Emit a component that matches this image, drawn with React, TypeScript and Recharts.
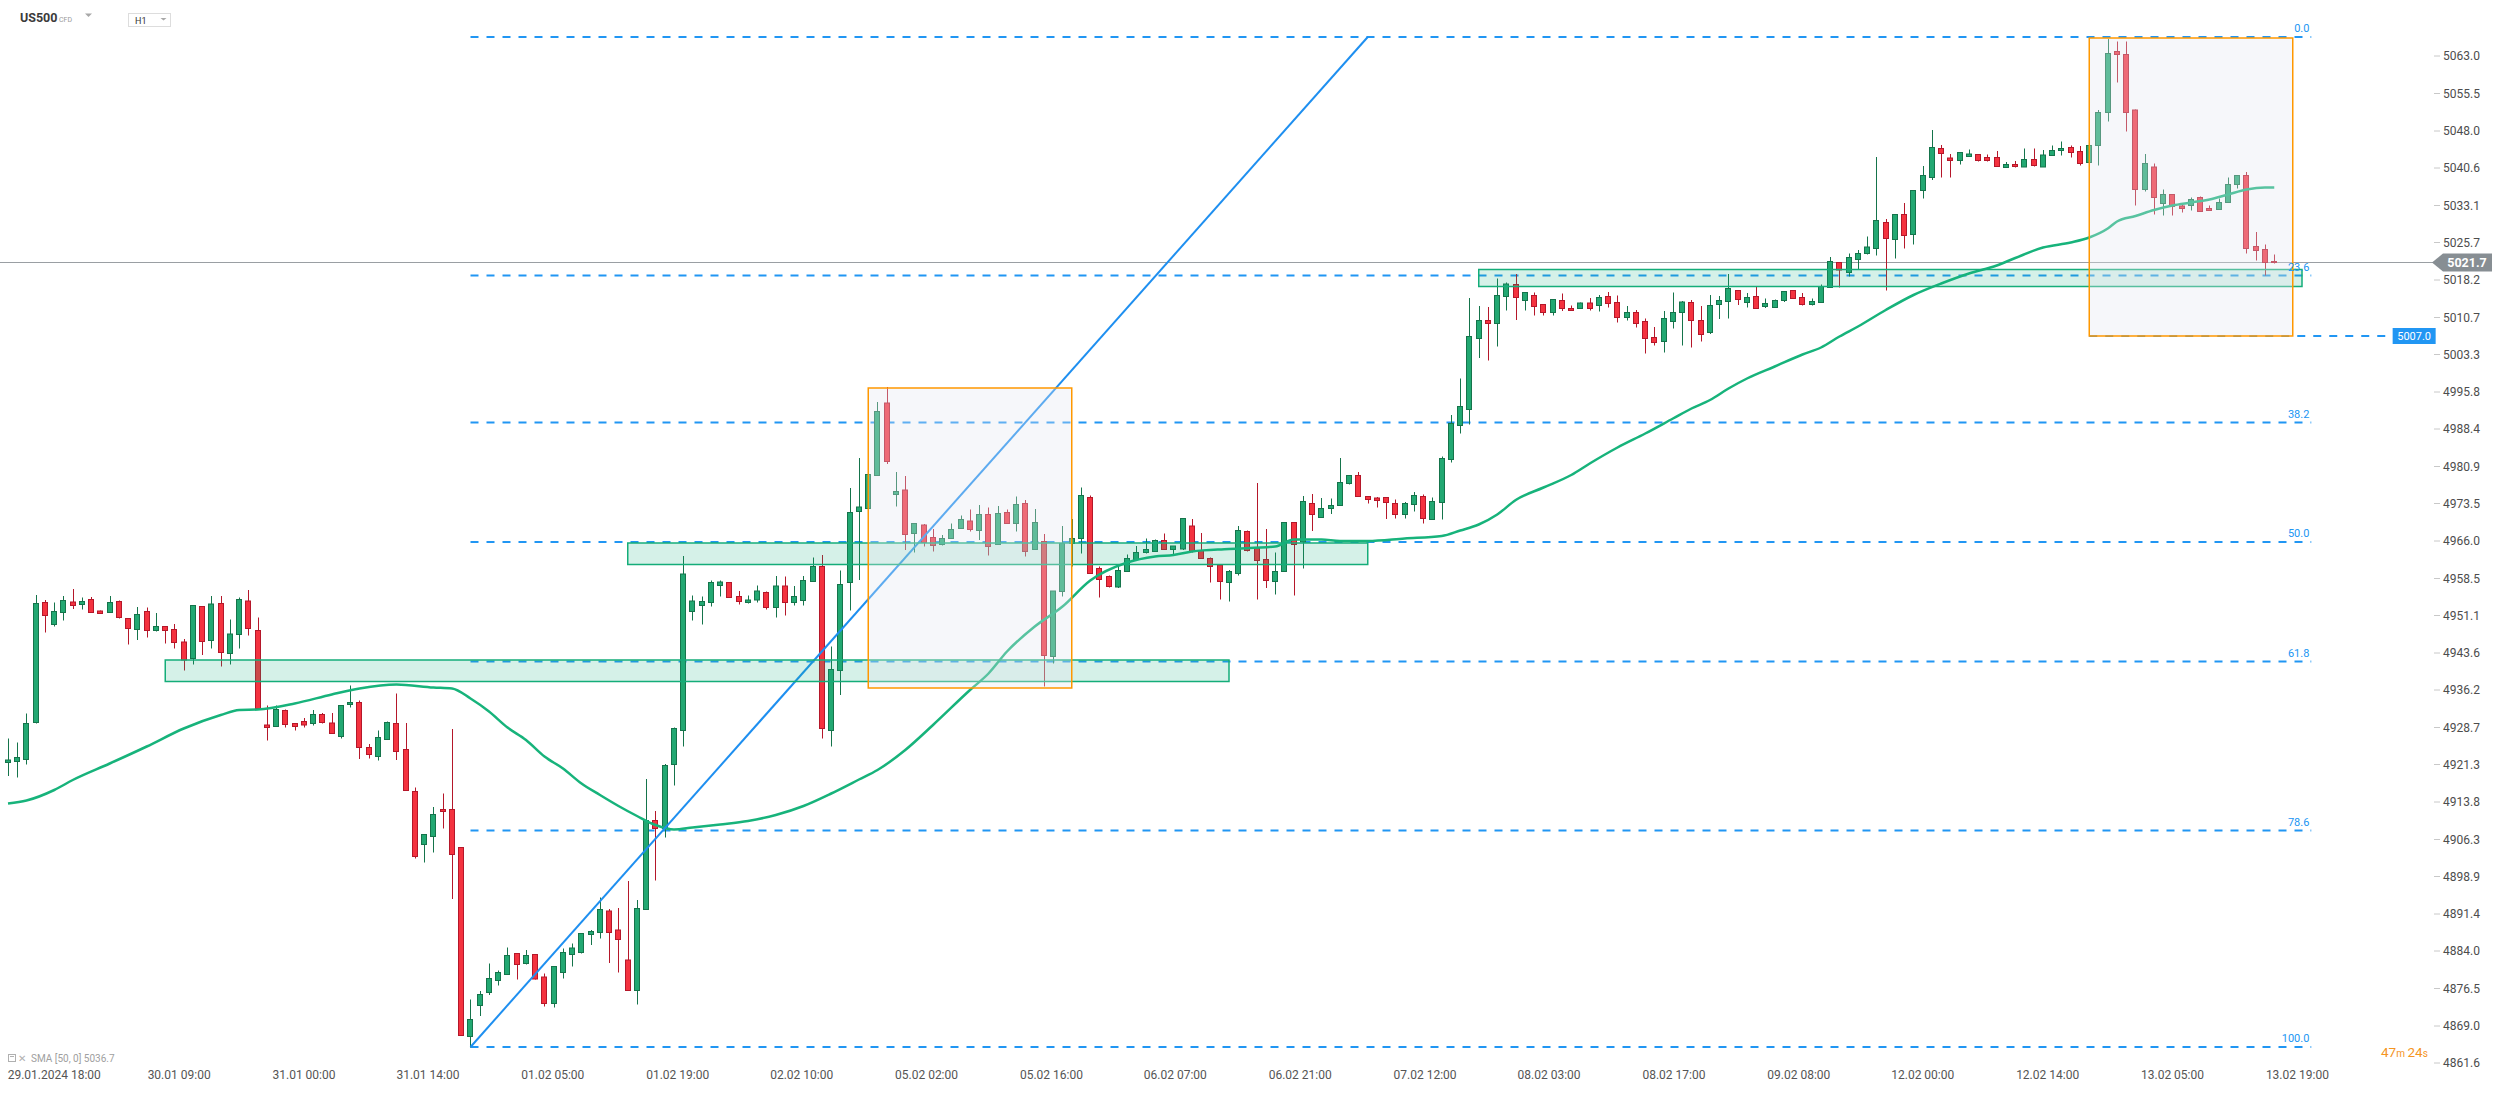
import React from 'react';
import {
  ComposedChart,
  Bar,
  Line,
  XAxis,
  YAxis,
  ReferenceLine,
  ReferenceArea,
  ReferenceDot,
} from 'recharts';

// ---------- DATA ----------
const OPEN = [
  4921.7, 4921.9, 4922.3, 4929.7, 4953.7, 4949.3, 4951.7, 4953.8, 4953.3, 4954.3,
  4952.0, 4951.7, 4953.9, 4950.5, 4948.3, 4951.9, 4948.1, 4948.9, 4948.3, 4945.8,
  4942.5, 4952.9, 4946.1, 4953.5, 4943.5, 4947.3, 4954.0, 4948.1, 4929.2, 4928.9,
  4932.1, 4929.5, 4929.9, 4929.5, 4931.3, 4929.6, 4926.9, 4933.3, 4933.7, 4924.7,
  4922.9, 4926.3, 4929.5, 4924.3, 4915.9, 4905.3, 4906.9, 4912.3, 4912.3, 4904.7,
  4866.9, 4873.1, 4875.7, 4878.1, 4879.3, 4883.5, 4881.5, 4883.3, 4878.8, 4873.5,
  4879.7, 4883.3, 4883.7, 4887.3, 4887.7, 4892.0, 4888.2, 4882.2, 4876.1, 4892.3,
  4910.1, 4908.5, 4921.3, 4928.1, 4951.9, 4953.1, 4953.7, 4957.1, 4957.7, 4954.9,
  4953.7, 4954.2, 4955.7, 4952.7, 4957.0, 4953.7, 4954.1, 4957.9, 4960.9, 4928.1,
  4940.1, 4957.7, 4971.9, 4972.5, 4979.1, 4993.6, 4975.3, 4976.2, 4967.5, 4969.2,
  4966.7, 4965.3, 4966.5, 4968.5, 4970.0, 4968.1, 4971.3, 4965.3, 4971.7, 4969.5,
  4973.5, 4964.3, 4965.9, 4942.9, 4955.9, 4965.5, 4966.5, 4974.7, 4960.5, 4958.9,
  4956.8, 4959.9, 4962.3, 4963.7, 4963.9, 4966.1, 4964.3, 4964.4, 4969.0, 4964.1,
  4962.5, 4961.2, 4957.7, 4959.5, 4967.9, 4964.6, 4962.3, 4957.9, 4959.9, 4969.7,
  4965.8, 4973.5, 4970.7, 4972.5, 4973.1, 4977.5, 4979.1, 4974.9, 4974.6, 4974.7,
  4973.5, 4971.3, 4973.3, 4974.9, 4970.3, 4973.7, 4982.3, 4989.1, 4992.3, 5006.5,
  5010.1, 5009.5, 5014.9, 5017.3, 5014.1, 5015.1, 5013.3, 5011.7, 5014.1, 5012.5,
  5012.5, 5013.6, 5013.1, 5014.9, 5013.7, 5010.7, 5011.7, 5009.9, 5006.7, 5005.9,
  5009.9, 5011.7, 5013.7, 5010.1, 5007.7, 5013.3, 5013.9, 5016.1, 5013.7, 5014.9,
  5012.9, 5012.7, 5014.1, 5016.1, 5014.7, 5013.3, 5013.7, 5016.7, 5021.7, 5019.7,
  5022.3, 5023.5, 5024.5, 5029.7, 5026.3, 5031.3, 5027.3, 5036.1, 5038.7, 5044.5,
  5042.6, 5042.1, 5042.9, 5043.3, 5042.7, 5042.7, 5040.7, 5041.3, 5040.8, 5042.3,
  5040.8, 5043.1, 5044.1, 5044.7, 5043.9, 5041.7, 5045.1, 5051.7, 5063.9, 5063.3,
  5052.2, 5036.3, 5040.8, 5033.5, 5035.3, 5033.0, 5033.1, 5034.7, 5032.5, 5032.3,
  5033.7, 5037.3, 5039.1, 5024.9, 5024.3, 5021.9,
];
const HIGH = [
  4926.5, 4925.7, 4931.5, 4955.2, 4954.2, 4953.7, 4955.0, 4956.4, 4954.7, 4954.8,
  4952.1, 4955.0, 4954.1, 4950.5, 4952.8, 4952.7, 4951.6, 4949.0, 4949.4, 4946.4,
  4953.2, 4953.0, 4955.0, 4955.0, 4950.3, 4954.7, 4956.2, 4950.7, 4933.1, 4933.1,
  4932.3, 4929.5, 4930.6, 4932.2, 4931.6, 4931.6, 4933.1, 4937.1, 4934.1, 4925.4,
  4928.1, 4929.9, 4935.5, 4929.6, 4916.7, 4907.4, 4912.8, 4915.5, 4928.4, 4904.7,
  4874.3, 4876.0, 4881.5, 4880.1, 4884.7, 4883.6, 4884.2, 4883.3, 4879.5, 4880.9,
  4884.5, 4885.5, 4887.5, 4888.2, 4894.7, 4892.4, 4892.6, 4898.0, 4894.2, 4918.4,
  4912.0, 4921.4, 4928.7, 4963.0, 4955.1, 4954.9, 4958.1, 4958.1, 4957.8, 4956.0,
  4955.1, 4957.1, 4955.9, 4959.0, 4958.9, 4957.0, 4959.0, 4962.7, 4963.2, 4944.9,
  4960.1, 4976.6, 4982.6, 4979.3, 4993.8, 4996.8, 4979.8, 4979.0, 4969.5, 4969.4,
  4968.4, 4967.2, 4969.5, 4971.1, 4972.3, 4973.2, 4972.7, 4973.0, 4972.3, 4974.9,
  4974.2, 4972.4, 4967.4, 4956.0, 4969.0, 4970.4, 4976.7, 4975.1, 4960.9, 4959.1,
  4961.0, 4963.3, 4965.0, 4966.5, 4966.3, 4967.5, 4965.0, 4970.5, 4970.4, 4967.6,
  4962.7, 4961.3, 4960.2, 4969.0, 4968.1, 4977.6, 4968.4, 4963.7, 4969.7, 4969.7,
  4975.0, 4975.4, 4974.6, 4974.5, 4982.6, 4979.1, 4979.8, 4974.9, 4974.8, 4974.7,
  4974.3, 4973.8, 4975.8, 4975.3, 4974.7, 4982.9, 4991.2, 4998.5, 5014.6, 5013.0,
  5012.8, 5018.5, 5017.7, 5019.4, 5015.7, 5015.7, 5013.3, 5014.4, 5015.5, 5013.1,
  5013.7, 5014.6, 5015.2, 5015.8, 5015.1, 5013.0, 5012.2, 5010.5, 5008.8, 5012.0,
  5015.7, 5014.0, 5014.2, 5013.0, 5015.2, 5015.0, 5019.4, 5016.1, 5015.6, 5016.9,
  5014.5, 5014.3, 5015.9, 5016.1, 5015.6, 5014.5, 5017.3, 5022.8, 5021.7, 5023.5,
  5024.2, 5026.9, 5042.8, 5030.4, 5031.3, 5033.6, 5036.1, 5041.0, 5048.2, 5045.2,
  5043.4, 5043.7, 5044.3, 5043.3, 5043.3, 5044.0, 5041.8, 5042.0, 5044.5, 5044.5,
  5044.2, 5045.1, 5045.9, 5045.1, 5045.0, 5045.2, 5052.2, 5066.4, 5065.9, 5065.9,
  5052.3, 5043.4, 5041.5, 5036.3, 5035.3, 5033.2, 5034.7, 5034.9, 5033.1, 5034.5,
  5038.7, 5039.1, 5039.8, 5027.8, 5025.3, 5023.3,
];
const LOW = [
  4919.0, 4918.7, 4921.3, 4929.5, 4947.7, 4948.9, 4950.1, 4952.4, 4952.3, 4951.6,
  4951.5, 4951.7, 4950.5, 4945.3, 4946.2, 4946.7, 4947.9, 4945.5, 4944.5, 4940.1,
  4941.3, 4943.2, 4944.5, 4940.9, 4941.3, 4944.5, 4947.1, 4932.2, 4926.1, 4928.8,
  4928.7, 4928.1, 4928.7, 4929.1, 4929.5, 4927.5, 4926.5, 4932.7, 4922.4, 4922.5,
  4922.1, 4926.3, 4922.2, 4916.1, 4902.5, 4901.7, 4903.7, 4908.5, 4894.4, 4867.0,
  4864.7, 4871.0, 4875.2, 4877.1, 4879.3, 4878.3, 4881.3, 4878.3, 4872.9, 4872.7,
  4878.5, 4880.9, 4883.5, 4885.2, 4886.5, 4881.6, 4879.7, 4876.1, 4873.3, 4892.3,
  4898.1, 4906.7, 4917.1, 4924.9, 4950.1, 4949.3, 4952.9, 4954.9, 4954.6, 4953.3,
  4953.5, 4953.7, 4952.3, 4950.7, 4951.1, 4953.1, 4953.1, 4957.9, 4926.5, 4924.9,
  4935.2, 4952.1, 4958.2, 4972.5, 4979.1, 4981.4, 4972.9, 4964.2, 4963.7, 4964.9,
  4963.9, 4965.1, 4966.4, 4968.5, 4967.9, 4966.2, 4963.1, 4965.3, 4969.5, 4967.9,
  4962.9, 4964.2, 4936.9, 4941.5, 4954.9, 4960.9, 4963.5, 4959.5, 4954.7, 4956.7,
  4956.6, 4959.8, 4962.2, 4963.5, 4963.8, 4964.3, 4963.4, 4964.2, 4963.7, 4962.4,
  4957.7, 4954.3, 4953.9, 4959.1, 4963.9, 4954.3, 4956.6, 4955.3, 4959.8, 4955.1,
  4960.5, 4968.0, 4970.7, 4971.4, 4973.1, 4977.3, 4974.9, 4973.5, 4972.7, 4970.4,
  4970.5, 4970.5, 4971.9, 4969.5, 4970.3, 4970.3, 4981.7, 4987.5, 4989.3, 5002.6,
  5002.1, 5004.9, 5012.1, 5010.2, 5012.1, 5011.1, 5011.1, 5011.1, 5012.0, 5012.1,
  5012.5, 5012.1, 5011.9, 5012.7, 5009.7, 5010.1, 5008.7, 5003.5, 5005.1, 5003.7,
  5008.5, 5005.1, 5004.7, 5005.9, 5007.4, 5010.4, 5010.5, 5013.2, 5012.7, 5012.5,
  5012.6, 5012.7, 5013.8, 5014.5, 5013.1, 5013.1, 5013.7, 5016.7, 5016.7, 5018.9,
  5020.3, 5023.3, 5023.1, 5016.1, 5022.5, 5024.5, 5025.3, 5034.5, 5038.2, 5038.7,
  5038.7, 5041.3, 5042.9, 5041.9, 5041.9, 5040.9, 5040.7, 5040.7, 5040.8, 5040.9,
  5040.8, 5043.1, 5043.1, 5042.7, 5041.1, 5041.7, 5041.1, 5049.9, 5057.7, 5047.9,
  5033.1, 5035.9, 5031.3, 5031.1, 5031.1, 5031.7, 5032.1, 5031.9, 5032.1, 5032.3,
  5033.7, 5036.5, 5023.5, 5022.1, 5019.1, 5021.5,
];
const CLOSE = [
  4922.2, 4922.7, 4929.5, 4953.5, 4951.1, 4951.9, 4954.1, 4953.1, 4953.9, 4951.7,
  4951.5, 4953.7, 4950.7, 4948.5, 4951.3, 4948.1, 4948.9, 4948.1, 4945.7, 4942.2,
  4953.1, 4945.9, 4953.4, 4943.7, 4947.4, 4954.3, 4948.5, 4932.5, 4928.7, 4932.3,
  4929.3, 4928.9, 4929.2, 4931.3, 4929.7, 4927.5, 4933.1, 4933.7, 4924.7, 4923.3,
  4926.7, 4929.7, 4923.9, 4916.1, 4902.9, 4907.3, 4911.3, 4911.9, 4903.3, 4867.1,
  4870.3, 4875.3, 4878.5, 4879.7, 4883.1, 4881.3, 4883.1, 4878.4, 4873.5, 4880.9,
  4883.7, 4884.6, 4887.5, 4887.9, 4892.3, 4887.7, 4886.3, 4876.1, 4892.5, 4910.1,
  4908.5, 4921.1, 4928.5, 4959.4, 4954.0, 4953.9, 4957.7, 4957.8, 4954.7, 4953.9,
  4954.2, 4956.0, 4952.7, 4957.0, 4953.7, 4954.9, 4958.1, 4960.9, 4928.5, 4940.3,
  4957.3, 4971.7, 4972.8, 4979.3, 4991.9, 4981.9, 4975.9, 4967.3, 4969.5, 4965.7,
  4965.1, 4966.5, 4968.3, 4970.3, 4968.3, 4971.3, 4964.9, 4971.5, 4969.5, 4973.3,
  4963.9, 4969.7, 4943.1, 4956.0, 4965.5, 4966.5, 4975.1, 4959.5, 4958.3, 4956.9,
  4960.1, 4962.5, 4963.7, 4964.3, 4966.1, 4964.3, 4965.0, 4970.5, 4963.9, 4962.5,
  4960.9, 4957.9, 4959.9, 4968.1, 4964.1, 4962.1, 4958.1, 4959.9, 4969.7, 4965.3,
  4973.9, 4971.3, 4972.5, 4973.1, 4977.7, 4979.1, 4974.9, 4974.3, 4974.1, 4973.7,
  4971.3, 4973.5, 4975.1, 4970.5, 4973.9, 4982.5, 4989.5, 4992.9, 5006.9, 5010.1,
  5009.5, 5015.1, 5017.4, 5014.7, 5015.7, 5012.9, 5011.7, 5014.3, 5012.5, 5012.1,
  5013.6, 5012.5, 5014.7, 5013.5, 5010.7, 5011.7, 5009.5, 5006.5, 5005.7, 5010.5,
  5011.7, 5013.8, 5010.1, 5007.3, 5013.1, 5014.1, 5016.5, 5014.3, 5014.7, 5012.5,
  5013.5, 5014.1, 5015.9, 5014.5, 5013.3, 5013.9, 5016.9, 5021.9, 5020.2, 5022.7,
  5023.5, 5024.8, 5030.1, 5026.5, 5031.3, 5027.1, 5036.1, 5039.1, 5044.7, 5043.5,
  5042.1, 5043.7, 5043.4, 5042.1, 5042.1, 5040.9, 5041.3, 5040.9, 5042.3, 5041.1,
  5043.2, 5044.1, 5044.5, 5043.7, 5041.5, 5045.1, 5051.7, 5063.5, 5063.3, 5051.7,
  5036.3, 5041.5, 5034.7, 5035.3, 5032.9, 5032.5, 5034.3, 5031.9, 5032.1, 5033.7,
  5037.3, 5039.1, 5024.5, 5024.1, 5021.7, 5021.7,
];

// SMA(50) read at selected candles
const SMA_AT = [
  1, 3, 6, 8, 12, 16, 20, 24, 26, 28, 32, 36, 39, 43, 47, 49, 51, 53, 55, 57,
  59, 61, 63, 65, 67, 69, 71, 73, 75, 78, 81, 84, 87, 90, 93, 95, 98, 101, 105, 107,
  109, 112, 115, 118, 122, 125, 127, 129, 133, 138, 140, 143, 145, 148, 152, 156, 158, 160, 162, 164,
  167, 170, 172, 175, 178, 181, 183, 185, 187, 189, 192, 195, 197, 199, 201, 204, 207, 210, 213, 216,
  218, 221, 224, 226, 228, 229, 231, 233, 235, 237, 239, 241, 243, 245, 246,
];
const SMA_VAL = [
  4913.5, 4914.1, 4916.2, 4918.2, 4921.5, 4924.9, 4928.5, 4931.2, 4932.2, 4932.3,
  4933.5, 4935.3, 4936.5, 4937.3, 4936.7, 4936.5, 4934.5, 4931.9, 4928.7, 4926.2,
  4922.9, 4920.5, 4917.5, 4915.2, 4913.0, 4911.0, 4909.2, 4908.3, 4908.7, 4909.3,
  4910.0, 4911.2, 4913.0, 4915.5, 4918.3, 4920.2, 4924.2, 4929.2, 4936.2, 4939.5,
  4943.9, 4948.9, 4952.9, 4958.1, 4961.7, 4962.9, 4963.2, 4963.9, 4964.4, 4964.9,
  4966.3, 4966.3, 4966.0, 4966.0, 4966.5, 4967.0, 4968.1, 4969.3, 4971.3, 4974.2,
  4976.7, 4979.2, 4981.5, 4984.7, 4987.5, 4990.5, 4992.5, 4994.2, 4996.5, 4998.5,
  5000.9, 5003.3, 5004.7, 5006.9, 5008.9, 5012.2, 5015.2, 5017.5, 5019.5, 5021.1,
  5022.6, 5024.7, 5025.7, 5026.7, 5028.5, 5029.9, 5031.0, 5032.2, 5033.1, 5033.7,
  5034.3, 5035.3, 5036.3, 5036.7, 5036.7,
];

const X_TICK_POS = [
  6, 19.5, 33, 46.4, 59.9, 73.4, 86.8, 100.3, 113.8, 127.2, 140.7, 154.2, 167.6,
  181.1, 194.6, 208, 221.5, 235, 248.5,
];
const X_TICK_LABELS = [
  '29.01.2024 18:00', '30.01 09:00', '31.01 00:00', '31.01 14:00', '01.02 05:00',
  '01.02 19:00', '02.02 10:00', '05.02 02:00', '05.02 16:00', '06.02 07:00',
  '06.02 21:00', '07.02 12:00', '08.02 03:00', '08.02 17:00', '09.02 08:00',
  '12.02 00:00', '12.02 14:00', '13.02 05:00', '13.02 19:00',
];
const Y_TICKS = [
  5063.0, 5055.5, 5048.0, 5040.6, 5033.1, 5025.7, 5018.2, 5010.7, 5003.3, 4995.8,
  4988.4, 4980.9, 4973.5, 4966.0, 4958.5, 4951.1, 4943.6, 4936.2, 4928.7, 4921.3,
  4913.8, 4906.3, 4898.9, 4891.4, 4884.0, 4876.5, 4869.0, 4861.6,
];

const FIB_LABELS = ['0.0', '23.6', '38.2', '50.0', '61.8', '78.6', '100.0'];
const FIB_PRICES = [5066.8, 5019.1, 4989.7, 4965.8, 4941.9, 4908.1, 4864.8];
const FIB_FROM = 51;
const FIB_TO = 250;

// trend line: from the low candle to the 0.0 level
const TREND = [
  { x: 51, y: 4864.8 },
  { x: 148, y: 5066.8 },
];

// support / resistance zones (candle index, price)
const ZONES = [
  { x1: 18, x2: 133, y1: 4937.9, y2: 4942.2 },
  { x1: 68, x2: 148, y1: 4961.3, y2: 4965.6 },
  { x1: 160, x2: 249, y1: 5016.9, y2: 5020.3 },
];
// orange boxes
const BOXES = [
  { x1: 94, x2: 116, y1: 4936.6, y2: 4996.6 },
  { x1: 226, x2: 248, y1: 5007.0, y2: 5066.6 },
];
const LEVEL_5007 = { price: 5007.0, from: 226, to: 258.8 };
const LAST_PRICE = 5021.7;
const SMA_LAST = 5036.7;

// ---------- BUILD ROWS ----------
const smaMap = new Map<number, number>();
SMA_AT.forEach((k, j) => smaMap.set(k, SMA_VAL[j]));
const rows = OPEN.map((o, k) => ({
  i: k + 1,
  o,
  h: HIGH[k],
  l: LOW[k],
  c: CLOSE[k],
  sma: smaMap.has(k + 1) ? smaMap.get(k + 1) : null,
}));

const W = 2506;
const H = 1093;
const X_DOMAIN: [number, number] = [0.135, 263.27];
const Y_DOMAIN: [number, number] = [4861.2, 5074.2];

const GREEN = '#22a872';
const GREEN_D = '#15744b';
const RED = '#f4323f';
const RED_D = '#b5172a';
const FIB_BLUE = '#2196f3';
const FONT = 'Roboto, "Noto Sans", sans-serif';

function Candle(props: any) {
  const { x, y, width, height, payload } = props;
  if (x == null || y == null || !payload) return null;
  const { o, h, l, c } = payload;
  const cx = Math.round(x + width / 2) + 0.5;
  const ppu = h > l ? height / (h - l) : 0;
  const py = (v: number) => y + (h - v) * ppu;
  const up = c >= o;
  const top = py(Math.max(o, c));
  const bot = py(Math.min(o, c));
  const fill = up ? GREEN : RED;
  const stroke = up ? GREEN_D : RED_D;
  return (
    <g>
      <line x1={cx} x2={cx} y1={y} y2={y + height} stroke={stroke} strokeWidth={1} />
      <rect
        x={cx - 3}
        y={top}
        width={5}
        height={Math.max(bot - top, 1)}
        fill={fill}
        stroke={stroke}
        strokeWidth={1}
      />
    </g>
  );
}

const xLabel = (v: number) => {
  const k = X_TICK_POS.indexOf(v);
  return k >= 0 ? X_TICK_LABELS[k] : '';
};

export default function App() {
  return (
    <div
      style={{
        position: 'absolute',
        left: 0,
        top: 0,
        width: W,
        height: H,
        background: '#ffffff',
        overflow: 'hidden',
        fontFamily: FONT,
      }}
    >
      <ComposedChart
        width={W}
        height={H}
        data={rows}
        margin={{ top: 0, right: 0, bottom: 0, left: 0 }}
        style={{ fontFamily: FONT }}
      >
        <XAxis
          dataKey="i"
          type="number"
          domain={X_DOMAIN}
          allowDataOverflow
          ticks={X_TICK_POS}
          interval={0}
          tickFormatter={xLabel}
          axisLine={false}
          tickLine={false}
          height={28}
          tickSize={0}
          tickMargin={5}
          tick={{ fontSize: 12, fill: '#555555', fontFamily: FONT }}
        />
        <YAxis
          type="number"
          orientation="right"
          domain={Y_DOMAIN}
          allowDataOverflow
          ticks={Y_TICKS}
          interval={0}
          width={72}
          axisLine={false}
          tickLine={{ stroke: '#c8c8c8' }}
          tickSize={6}
          tickMargin={3}
          tickFormatter={(v: number) => v.toFixed(1)}
          tick={{ fontSize: 12, fill: '#4d4d4d', fontFamily: FONT }}
        />

        {FIB_PRICES.map((p, k) => (
          <ReferenceLine
            key={'fib' + k}
            segment={[
              { x: FIB_FROM, y: p },
              { x: FIB_TO, y: p },
            ]}
            stroke={FIB_BLUE}
            strokeWidth={2}
            strokeDasharray="8 8"
            ifOverflow="visible"
            zIndex={100}
          />
        ))}
        <ReferenceLine
          segment={[
            { x: LEVEL_5007.from, y: LEVEL_5007.price },
            { x: LEVEL_5007.to, y: LEVEL_5007.price },
          ]}
          stroke={FIB_BLUE}
          strokeWidth={2}
          strokeDasharray="8 8"
          ifOverflow="visible"
          zIndex={100}
        />
        <ReferenceLine y={LAST_PRICE} stroke="#9a9fa3" strokeWidth={1} zIndex={100} />

        <Bar
          dataKey={(d: any) => [d.l, d.h]}
          barSize={7}
          shape={Candle}
          isAnimationActive={false}
          zIndex={300}
        />
        <Line
          dataKey="sma"
          connectNulls
          dot={false}
          activeDot={false}
          type="monotone"
          stroke="#17b37b"
          strokeWidth={2.5}
          isAnimationActive={false}
          zIndex={400}
        />

        <ReferenceLine
          segment={TREND}
          stroke="#1e8ff0"
          strokeWidth={2}
          ifOverflow="visible"
          zIndex={450}
        />

        {ZONES.map((z, k) => (
          <ReferenceArea
            key={'zone' + k}
            x1={z.x1}
            x2={z.x2}
            y1={z.y1}
            y2={z.y2}
            fill="#15b480"
            fillOpacity={0.18}
            stroke="#14ad79"
            strokeWidth={1.5}
            strokeOpacity={1}
            ifOverflow="visible"
            zIndex={500}
          />
        ))}
        {BOXES.map((b, k) => (
          <ReferenceArea
            key={'box' + k}
            x1={b.x1}
            x2={b.x2}
            y1={b.y1}
            y2={b.y2}
            fill="#e2e7ef"
            fillOpacity={0.32}
            stroke="#ff9800"
            strokeWidth={1.5}
            strokeOpacity={1}
            ifOverflow="visible"
            zIndex={500}
          />
        ))}

        {FIB_PRICES.map((p, k) => (
          <ReferenceDot
            key={'fibl' + k}
            x={249.8}
            y={p}
            r={0}
            ifOverflow="visible"
            zIndex={600}
            shape={(sp: any) => (
              <text
                x={sp.cx}
                y={sp.cy - 5}
                textAnchor="end"
                fontSize={11}
                fill={FIB_BLUE}
                fontFamily={FONT}
              >
                {FIB_LABELS[k]}
              </text>
            )}
          />
        ))}

        <ReferenceDot
          x={LEVEL_5007.to}
          y={LEVEL_5007.price}
          r={0}
          ifOverflow="visible"
          zIndex={600}
          shape={(sp: any) => (
            <g>
              <rect x={sp.cx} y={sp.cy - 8} width={43} height={16} fill={FIB_BLUE} />
              <text
                x={sp.cx + 21.5}
                y={sp.cy + 4}
                textAnchor="middle"
                fontSize={11}
                fill="#ffffff"
                fontFamily={FONT}
              >
                {LEVEL_5007.price.toFixed(1)}
              </text>
            </g>
          )}
        />
        <ReferenceDot
          x={X_DOMAIN[1]}
          y={LAST_PRICE}
          r={0}
          ifOverflow="visible"
          zIndex={600}
          shape={(sp: any) => {
            const x0 = sp.cx - 2;
            const yc = sp.cy;
            return (
              <g>
                <polygon
                  points={`${x0},${yc} ${x0 + 11},${yc - 9} ${x0 + 60},${yc - 9} ${x0 + 60},${yc + 9} ${x0 + 11},${yc + 9}`}
                  fill="#878e93"
                />
                <text
                  x={x0 + 35}
                  y={yc + 4.5}
                  textAnchor="middle"
                  fontSize={12.5}
                  fontWeight={700}
                  fill="#ffffff"
                  fontFamily={FONT}
                >
                  {LAST_PRICE.toFixed(1)}
                </text>
              </g>
            );
          }}
        />
      </ComposedChart>

      <svg
        width={W}
        height={H}
        style={{ position: 'absolute', left: 0, top: 0, pointerEvents: 'none' }}
      >
        <text x={20} y={22} fontSize={12.5} fontWeight={700} fill="#3b3b3b" fontFamily={FONT}>
          US500
        </text>
        <text x={59} y={21.5} fontSize={7} fill="#9a9a9a" fontFamily={FONT}>
          CFD
        </text>
        <polygon points="85,13.5 92,13.5 88.5,17" fill="#a8a8a8" />
        <rect x={128.5} y={13.5} width={42} height={13} fill="#ffffff" stroke="#dddddd" />
        <text x={135} y={23.5} fontSize={9} fill="#333333" fontFamily={FONT}>
          H1
        </text>
        <polygon points="160.5,18 166.5,18 163.5,20.5" fill="#a8a8a8" />

        <rect x={8.5} y={1054.5} width={7} height={7} fill="none" stroke="#b0b0b0" />
        <line x1={10} y1={1056.5} x2={14} y2={1056.5} stroke="#b0b0b0" />
        <text x={18} y={1062} fontSize={10} fill="#b0b0b0" fontFamily={FONT}>
          ✕
        </text>
        <text x={31} y={1062} fontSize={10} fill="#a0a0a0" fontFamily={FONT}>
          {`SMA [50, 0] ${SMA_LAST.toFixed(1)}`}
        </text>

        <text x={2381} y={1057} fill="#f5951f" fontFamily={FONT}>
          <tspan fontSize={13.5}>47</tspan>
          <tspan fontSize={10}>m </tspan>
          <tspan fontSize={13.5}>24</tspan>
          <tspan fontSize={10}>s</tspan>
        </text>
      </svg>
    </div>
  );
}
